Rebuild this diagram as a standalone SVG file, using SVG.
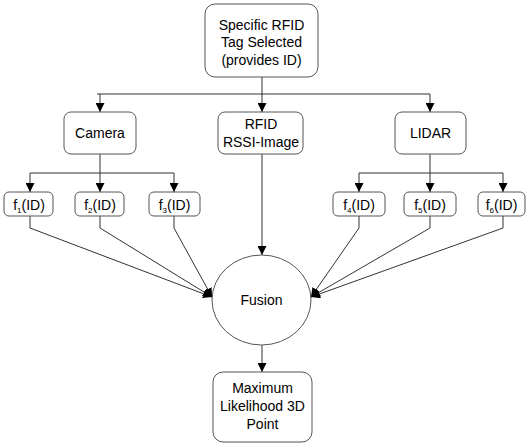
<svg xmlns="http://www.w3.org/2000/svg" width="527" height="445" viewBox="0 0 527 445">
<style>
.box{fill:#fff;stroke:#555;stroke-width:1}
.t{font-family:"Liberation Sans",Arial,sans-serif;font-size:14px;fill:#000;text-anchor:middle}
.sub{font-size:8px}
.c{fill:none;stroke:#333;stroke-width:1}
.a{marker-end:url(#ah)}
</style>
<defs>
<marker id="ah" viewBox="0 0 10 10" refX="10" refY="5" markerWidth="9" markerHeight="9" markerUnits="userSpaceOnUse" orient="auto">
<path d="M0,0 L10,5 L0,10 z" fill="#000"/>
</marker>
</defs>
<rect width="527" height="445" fill="#fff"/>
<g id="connectors">
<path class="c" d="M262,77 V94 M97,94 H430"/>
<path class="c a" d="M262,94 V112"/>
<path class="c a" d="M100,94 V112"/>
<path class="c a" d="M430,94 V112"/>
<path class="c" d="M100,154 V173 M30,173 H174"/>
<path class="c a" d="M30,173 V192"/>
<path class="c a" d="M100,173 V192"/>
<path class="c a" d="M174,173 V192"/>
<path class="c" d="M430,154 V173 M359,173 H503"/>
<path class="c a" d="M359,173 V192"/>
<path class="c a" d="M430,173 V192"/>
<path class="c a" d="M503,173 V192"/>
<path class="c a" d="M30,216 V228 L212,297"/>
<path class="c a" d="M100,216 V228 L212,297"/>
<path class="c a" d="M174,216 V228 L212,297"/>
<path class="c a" d="M359,216 V228 L311,297"/>
<path class="c a" d="M430,216 V228 L311,297"/>
<path class="c a" d="M503,216 V228 L311,297"/>
<path class="c a" d="M262,154 V255"/>
<path class="c a" d="M262,345 V372"/>
</g>
<g id="tag">
<rect class="box" x="205" y="4" width="113" height="73" rx="10"/>
<text class="t" x="261.5" y="30">Specific RFID</text>
<text class="t" x="261.5" y="47">Tag Selected</text>
<text class="t" x="261.5" y="65">(provides ID)</text>
</g>
<g id="camera">
<rect class="box" x="64" y="112" width="72" height="42" rx="7"/>
<text class="t" x="100" y="138">Camera</text>
</g>
<g id="rfid">
<rect class="box" x="218" y="112" width="85" height="42" rx="7"/>
<text class="t" x="261" y="129">RFID</text>
<text class="t" x="261" y="147">RSSI-Image</text>
</g>
<g id="lidar">
<rect class="box" x="395" y="112" width="71" height="42" rx="7"/>
<text class="t" x="430.5" y="138">LIDAR</text>
</g>
<g id="f1">
<rect class="box" x="4" y="192" width="49" height="24" rx="5"/>
<text class="t" x="29" y="210">f<tspan class="sub" dy="3">1</tspan><tspan dy="-3">(ID)</tspan></text>
</g>
<g id="f2">
<rect class="box" x="75" y="192" width="49" height="24" rx="5"/>
<text class="t" x="100" y="210">f<tspan class="sub" dy="3">2</tspan><tspan dy="-3">(ID)</tspan></text>
</g>
<g id="f3">
<rect class="box" x="149" y="192" width="51" height="24" rx="5"/>
<text class="t" x="174.5" y="210">f<tspan class="sub" dy="3">3</tspan><tspan dy="-3">(ID)</tspan></text>
</g>
<g id="f4">
<rect class="box" x="333" y="192" width="52" height="24" rx="5"/>
<text class="t" x="359" y="210">f<tspan class="sub" dy="3">4</tspan><tspan dy="-3">(ID)</tspan></text>
</g>
<g id="f5">
<rect class="box" x="404" y="192" width="52" height="24" rx="5"/>
<text class="t" x="430" y="210">f<tspan class="sub" dy="3">5</tspan><tspan dy="-3">(ID)</tspan></text>
</g>
<g id="f6">
<rect class="box" x="478" y="192" width="47" height="24" rx="5"/>
<text class="t" x="501.5" y="210">f<tspan class="sub" dy="3">6</tspan><tspan dy="-3">(ID)</tspan></text>
</g>
<g id="fusion">
<ellipse class="box" cx="261.5" cy="300" rx="49.5" ry="45"/>
<text class="t" x="261.5" y="305">Fusion</text>
</g>
<g id="result">
<rect class="box" x="213" y="372" width="99" height="70" rx="10"/>
<text class="t" x="262.5" y="393">Maximum</text>
<text class="t" x="262.5" y="411">Likelihood 3D</text>
<text class="t" x="262.5" y="429">Point</text>
</g>
</svg>
